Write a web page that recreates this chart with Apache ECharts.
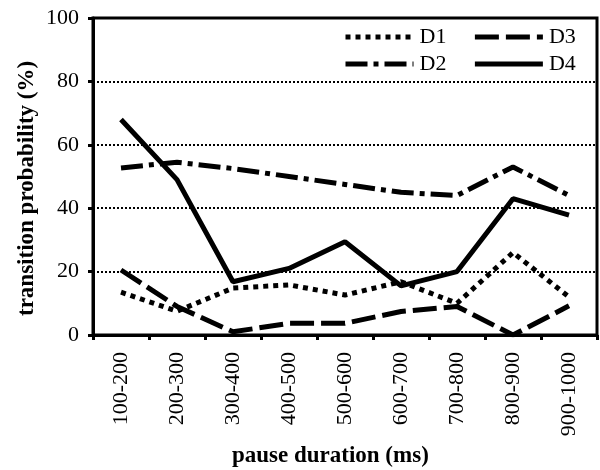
<!DOCTYPE html>
<html>
<head>
<meta charset="utf-8">
<script src="https://cdn.jsdelivr.net/npm/echarts@6/dist/echarts.min.js"></script>
<style>
	html, body { margin: 0; padding: 0; background: #fff; }
	#chart { width: 600px; height: 470px; }
</style>
</head>
<body>
<div id="chart"></div>
<script>
	// pause duration bins
	const categories = ['100-200', '200-300', '300-400', '400-500', '500-600', '600-700', '700-800', '800-900', '900-1000']
	// transition probability (%)
	const d1 = [13.5, 7.5, 14.8, 15.8, 12.6, 16.8, 10, 26, 12]
	const d2 = [52.7, 54.5, 52.5, 50, 47.5, 45, 44, 53, 44]
	const d3 = [20.5, 9, 1, 3.7, 3.7, 7.4, 9, 0, 9.2]
	const d4 = [68, 49, 16.8, 21, 29.4, 15.5, 20, 43, 37.8]
	const yTicks = [0, 20, 40, 60, 80, 100]

	const font = 'Liberation Serif'
	const chart = echarts.init(document.getElementById('chart'))

	const mkSeries = (name, data, type, width) => ({
		name: name,
		type: 'line',
		data: data,
		showSymbol: false,
		symbol: 'none',
		animation: false,
		lineStyle: { color: '#000', width: width, type: type, cap: 'butt' },
		itemStyle: { color: '#000' }
	})

	const legendBase = {
		itemWidth: 68,
		itemHeight: 14,
		itemStyle: { opacity: 0 },
		lineStyle: { width: 5 },
		textStyle: { fontFamily: font, fontSize: 22, color: '#000', padding: [0, 0, 0, 1] }
	}

	chart.setOption({
		backgroundColor: '#fff',
		animation: false,
		grid: {
			left: 93, right: 3, top: 18, bottom: 135,
			show: true, borderColor: '#000', borderWidth: 3
		},
		legend: [
			Object.assign({ data: ['D1', 'D3'], left: 338, top: 21, itemGap: 26 }, legendBase),
			Object.assign({ data: ['D2', 'D4'], left: 338, top: 48, itemGap: 26 }, legendBase)
		],
		xAxis: {
			type: 'category',
			data: categories,
			axisLine: { lineStyle: { color: '#000', width: 3 } },
			axisTick: { show: true, length: 5, lineStyle: { color: '#000', width: 3 } },
			axisLabel: { rotate: 90, margin: 17, fontFamily: font, fontSize: 22, color: '#000' }
		},
		yAxis: {
			type: 'value',
			min: yTicks[0],
			max: yTicks[yTicks.length - 1],
			interval: 20,
			axisLine: { show: true, lineStyle: { color: '#000', width: 3 } },
			axisTick: { show: true, length: 5, lineStyle: { color: '#000', width: 3 } },
			axisLabel: { margin: 14, fontFamily: font, fontSize: 22, color: '#000' },
			splitLine: { show: true, lineStyle: { color: '#000', width: 2, type: [2, 2] } }
		},
		graphic: [{
			type: 'text',
			left: 232, top: 445,
			style: { text: 'pause duration (ms)', font: 'bold 23px "Liberation Serif"', fill: '#000' }
		}, {
			type: 'text',
			x: 16, y: 316,
			rotation: Math.PI / 2,
			style: { text: 'transition probability (%)', font: 'bold 23px "Liberation Serif"', fill: '#000' }
		}],
		series: [
			mkSeries('D1', d1, [5, 5], 5),
			mkSeries('D2', d2, [22, 6, 5, 6], 5),
			mkSeries('D3', d3, [24, 7], 5),
			mkSeries('D4', d4, 'solid', 5)
		]
	})
</script>
</body>
</html>
